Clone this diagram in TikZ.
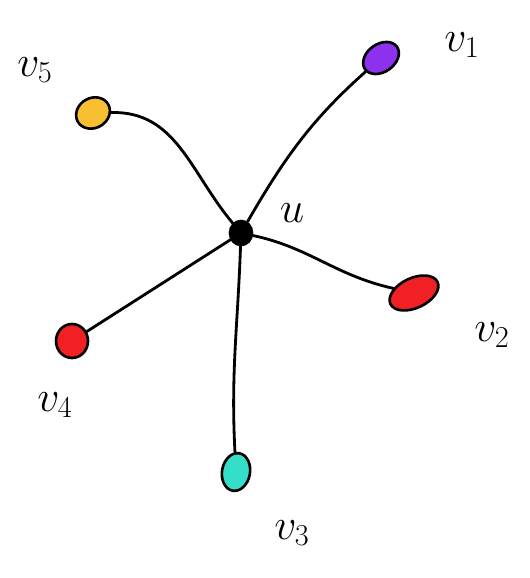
\documentclass[tikz,border=0pt]{standalone}
\usepackage{tikz}
\usetikzlibrary{shapes.geometric}

\definecolor{vpurple}{RGB}{140,50,238}
\definecolor{vyellow}{RGB}{248,192,48}
\definecolor{vred}{RGB}{240,32,36}
\definecolor{vteal}{RGB}{52,222,200}

\begin{document}
\begin{tikzpicture}[
  x=0.02cm, y=0.02cm,
  vtx/.style={ellipse, draw=black, line width=1.5pt, inner sep=0pt},
  lbl/.style={font=\fontsize{26}{28}\selectfont},
  edge/.style={line width=1.6pt, line cap=round},
]
\useasboundingbox (0,0) rectangle (529,578);

% centre vertex
\node[vtx, fill=black, minimum width=0.44cm, minimum height=0.48cm] (u) at (241,345) {};

% outer vertices
\node[vtx, fill=vpurple, minimum width=0.78cm, minimum height=0.56cm, rotate=35] (v1) at (381,520) {};
\node[vtx, fill=vred, minimum width=1.04cm, minimum height=0.6cm, rotate=25] (v2) at (414,285) {};
\node[vtx, fill=vteal, minimum width=0.56cm, minimum height=0.76cm, rotate=-10] (v3) at (236,106) {};
\node[vtx, fill=vred, minimum width=0.64cm, minimum height=0.68cm] (v4) at (72,237) {};
\node[vtx, fill=vyellow, minimum width=0.7cm, minimum height=0.6cm, rotate=30] (v5) at (93,465) {};

% labels
\node[lbl] (lu) at (292,365) {$u$};
\node[lbl] (l1) at (462,533) {$v_1$};
\node[lbl] (l2) at (492,243) {$v_2$};
\node[lbl] (l3) at (292,45) {$v_3$};
\node[lbl] (l4) at (55,173) {$v_4$};
\node[lbl] (l5) at (35,508) {$v_5$};

% edges
\draw[edge] (u) to[out=60, in=215] (v1);
\draw[edge] (u) to[out=-12, in=160] (v2);
\draw[edge] (u) to[out=-92, in=95] (v3);
\draw[edge] (u) -- (v4);
\draw[edge] (v5) to[out=-5, in=130] (u);
\end{tikzpicture}
\end{document}
